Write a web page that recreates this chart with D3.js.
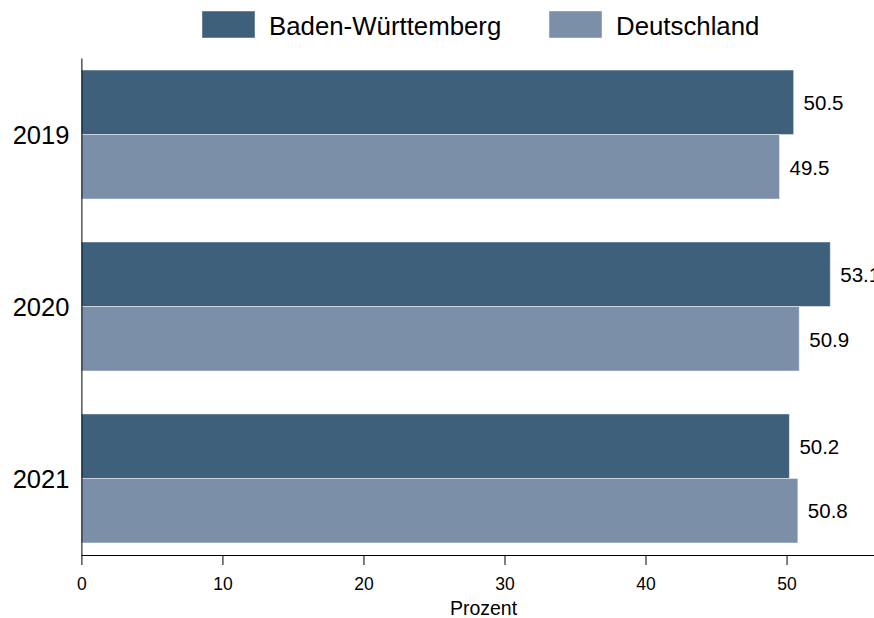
<!DOCTYPE html>
<html>
<head>
<meta charset="utf-8">
<script src="https://cdn.jsdelivr.net/npm/d3@7"></script>
<style>
  html, body { margin: 0; padding: 0; background: #fff; }
  svg { display: block; font-family: "Liberation Sans", Arial, sans-serif; }
</style>
</head>
<body>
<svg id="chart" width="874" height="618"></svg>
<script>
const years = ["2019", "2020", "2021"];
const seriesNames = ["Baden-Württemberg", "Deutschland"];
const bwValues = [50.5, 53.1, 50.2];
const deValues = [49.5, 50.9, 50.8];
const xTicks = [0, 10, 20, 30, 40, 50];
const colors = ["#3e607a", "#7b90a8"];

const svg = d3.select("#chart");

const x = d3.scaleLinear().domain([0, 56.2]).range([81.4, 874]);
const y = d3.scaleBand().domain(years).range([58, 555]).paddingInner(0.25).paddingOuter(0.07);
const ys = d3.scaleBand().domain(seriesNames).range([0, y.bandwidth()]);

const rows = years.map((yr, i) => ({ year: yr, values: [bwValues[i], deValues[i]] }));

const g = svg.selectAll("g.grp").data(rows).join("g")
  .attr("class", "grp")
  .attr("transform", d => `translate(0,${y(d.year)})`);

g.selectAll("rect").data(d => d.values.map((v, j) => ({ v, s: seriesNames[j], j }))).join("rect")
  .attr("x", x(0))
  .attr("y", d => ys(d.s))
  .attr("width", d => x(d.v) - x(0))
  .attr("height", ys.bandwidth())
  .attr("fill", d => colors[d.j])
  .attr("stroke", "rgba(255,255,255,0.45)")
  .attr("stroke-width", 1);

g.selectAll("text.val").data(d => d.values.map((v, j) => ({ v, s: seriesNames[j], j }))).join("text")
  .attr("class", "val")
  .attr("x", d => x(d.v) + 10)
  .attr("y", d => ys(d.s) + ys.bandwidth() / 2)
  .attr("dy", "0.38em")
  .attr("font-size", 20.5)
  .attr("fill", "#000")
  .text(d => d3.format(".1f")(d.v));

// x axis
const xAxis = svg.append("g")
  .attr("transform", "translate(0,555)")
  .call(d3.axisBottom(x).tickValues(xTicks).tickSize(10).tickPadding(13).tickSizeOuter(0));
xAxis.selectAll("text").attr("font-size", 17.5).attr("fill", "#000").attr("font-family", "Liberation Sans, Arial, sans-serif");
xAxis.selectAll("line, path").attr("stroke", "#000");

// y axis
const yAxis = svg.append("g")
  .attr("transform", "translate(81.4,0)")
  .call(d3.axisLeft(y).tickSize(0).tickPadding(12).tickSizeOuter(0));
yAxis.selectAll("text").attr("font-size", 25.5).attr("fill", "#000").attr("dy", "0.36em").attr("font-family", "Liberation Sans, Arial, sans-serif");
yAxis.selectAll("path").attr("stroke", "#000");

// x title
svg.append("text")
  .attr("x", 483.5).attr("y", 615)
  .attr("text-anchor", "middle")
  .attr("font-size", 19.5)
  .attr("fill", "#000")
  .text("Prozent");

// legend
const legendX = [202, 549];
const leg = svg.selectAll("g.leg").data(seriesNames).join("g")
  .attr("class", "leg")
  .attr("transform", (d, i) => `translate(${legendX[i]},11)`);
leg.append("rect")
  .attr("width", 53).attr("height", 27)
  .attr("fill", (d, i) => colors[i])
  .attr("stroke", "rgba(255,255,255,0.45)");
leg.append("text")
  .attr("x", 67).attr("y", 23.5)
  .attr("font-size", 25.8)
  .attr("fill", "#000")
  .text(d => d);
</script>
</body>
</html>
